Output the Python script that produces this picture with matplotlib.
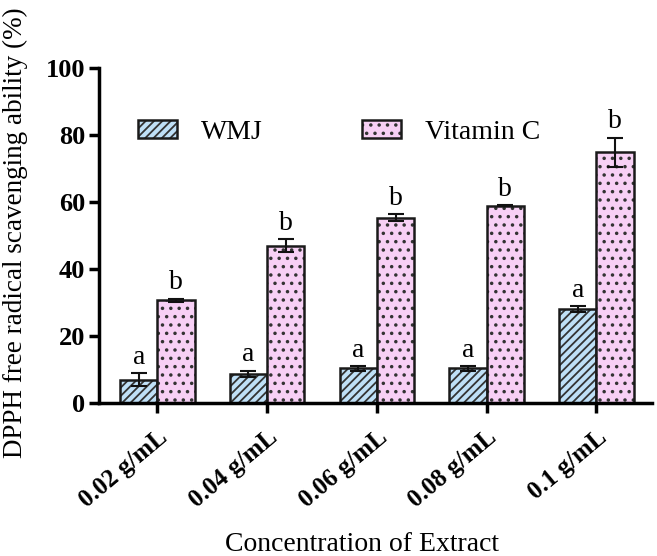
import numpy as np
import matplotlib
matplotlib.use("Agg")
import matplotlib.pyplot as plt

# data
concentrations = ["0.02 g/mL", "0.04 g/mL", "0.06 g/mL", "0.08 g/mL", "0.1 g/mL"]
wmj_mean = [7.0, 8.7, 10.4, 10.4, 28.1]
wmj_err = [2.0, 1.0, 0.7, 0.7, 0.8]
vitc_mean = [30.7, 46.9, 55.3, 58.9, 74.8]
vitc_err = [0.4, 1.9, 1.0, 0.2, 4.4]
wmj_letters = ["a", "a", "a", "a", "a"]
vitc_letters = ["b", "b", "b", "b", "b"]

plt.rcParams["font.family"] = ["Liberation Serif", "DejaVu Serif"]
plt.rcParams["hatch.linewidth"] = 1.3

fig = plt.figure(figsize=(6.57, 5.56), dpi=100)
ax = fig.add_axes([0.151, 0.275, 0.842, 0.603])

x = np.arange(len(concentrations))
w = 0.34

b1 = ax.bar(x - w / 2, wmj_mean, w, yerr=wmj_err, color="#bfe0f7", edgecolor="#1a1a1a",
            hatch="////", linewidth=1.8, label="WMJ",
            error_kw=dict(ecolor="#111111", elinewidth=1.5, capsize=6, capthick=1.5))
b2 = ax.bar(x + w / 2, vitc_mean, w, yerr=vitc_err, color="#f7d0f5", edgecolor="#1a1a1a",
            hatch="..", linewidth=1.8, label="Vitamin C",
            error_kw=dict(ecolor="#111111", elinewidth=1.5, capsize=6, capthick=1.5))
for bar in list(b1) + list(b2):
    bar._hatch_color = matplotlib.colors.to_rgba("#333333")

# significance letters
for i in range(len(x)):
    ax.text(x[i] - w / 2, wmj_mean[i] + wmj_err[i] + 1.0, wmj_letters[i],
            ha="center", va="bottom", fontsize=20)
    ax.text(x[i] + w / 2, vitc_mean[i] + vitc_err[i] + 1.0, vitc_letters[i],
            ha="center", va="bottom", fontsize=20)

ax.set_ylim(0, 100)
ax.set_xlim(-0.53, 4.51)
ax.set_yticks(np.arange(0, 101, 20))
ax.set_xticks(x)
ax.set_xticklabels(concentrations, rotation=40, ha="right", rotation_mode="anchor",
                   fontweight="bold", fontsize=18)
for lab in ax.get_yticklabels():
    lab.set_fontweight("bold")
    lab.set_fontsize(19)

for s in ["top", "right"]:
    ax.spines[s].set_visible(False)
for s in ["left", "bottom"]:
    ax.spines[s].set_linewidth(2.5)
ax.tick_params(axis="both", direction="out", length=7, width=2.5, colors="black")
ax.tick_params(axis="x", pad=9)
ax.tick_params(axis="y", pad=3)

ax.set_ylabel("DPPH free radical scavenging ability (%)", fontsize=19.5)
ax.yaxis.set_label_coords(-0.128, 0.507)
ax.set_xlabel("Concentration of Extract", fontsize=20)
ax.xaxis.set_label_coords(0.475, -0.385)

ax.legend(loc="upper left", bbox_to_anchor=(0.025, 0.92), ncol=2, frameon=False,
          fontsize=20, handlelength=1.4, handleheight=0.6, columnspacing=3.6,
          handletextpad=0.85)

fig.savefig("out.png", dpi=100)
